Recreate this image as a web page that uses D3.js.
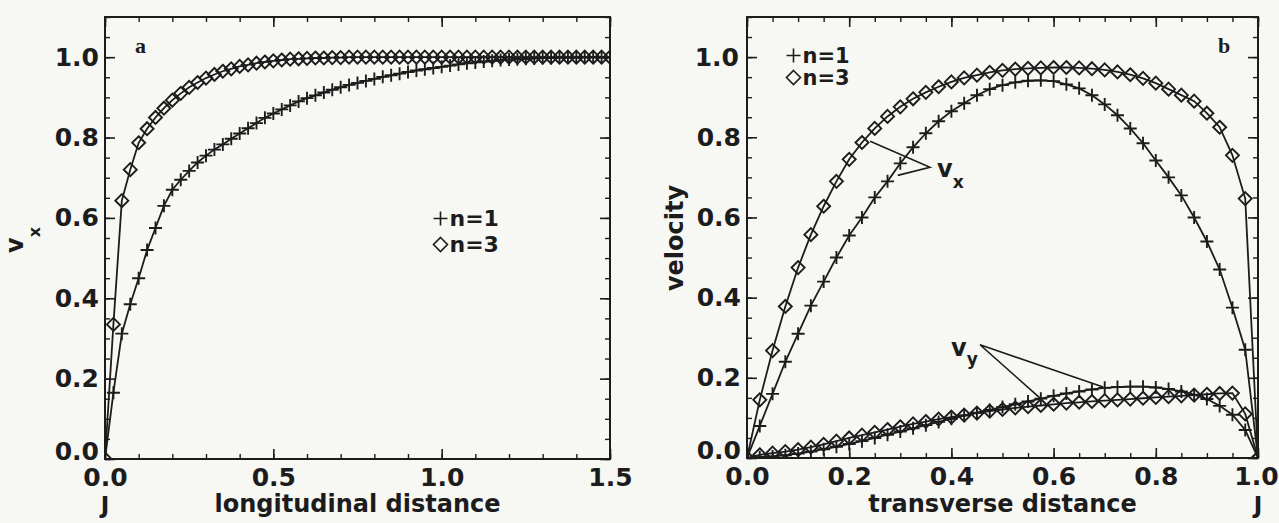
<!DOCTYPE html>
<html>
<head>
<meta charset="utf-8">
<script src="https://cdn.jsdelivr.net/npm/d3@7"></script>
<style>
  html, body { margin: 0; padding: 0; background: #f7f7f4; }
  svg { display: block; }
  text { font-family: 'DejaVu Sans', sans-serif; font-weight: bold; fill: #1c1c1c; }
  .serif { font-family: 'Liberation Serif', serif; }
</style>
</head>
<body>
<svg id="chart" width="1279" height="523"></svg>
<script>
// ---- Data ----
const xLong = [
  0, 0.025, 0.05, 0.075, 0.1, 0.125, 0.15, 0.175, 0.2, 0.225,
  0.25, 0.275, 0.3, 0.325, 0.35, 0.375, 0.4, 0.425, 0.45, 0.475,
  0.5, 0.525, 0.55, 0.575, 0.6, 0.625, 0.65, 0.675, 0.7, 0.725,
  0.75, 0.775, 0.8, 0.825, 0.85, 0.875, 0.9, 0.925, 0.95, 0.975,
  1.0, 1.025, 1.05, 1.075, 1.1, 1.125, 1.15, 1.175, 1.2, 1.225,
  1.25, 1.275, 1.3, 1.325, 1.35, 1.375, 1.4, 1.425, 1.45, 1.475,
  1.5
];
// panel a: v_x along the longitudinal distance
const vxLongN1 = [
  0, 0.165, 0.312, 0.385, 0.45, 0.52, 0.575, 0.63, 0.67, 0.695,
  0.717, 0.738, 0.755, 0.77, 0.783, 0.797, 0.81, 0.823, 0.836, 0.849,
  0.86, 0.87, 0.88, 0.89, 0.898, 0.905, 0.912, 0.919, 0.925, 0.931,
  0.936, 0.941, 0.946, 0.951, 0.955, 0.959, 0.963, 0.967, 0.97, 0.973,
  0.976, 0.979, 0.982, 0.985, 0.987, 0.989, 0.991, 0.993, 0.994, 0.995,
  0.996, 0.997, 0.998, 0.998, 0.999, 0.999, 0.999, 1, 1, 1,
  1
];
const vxLongN3 = [
  0, 0.335, 0.643, 0.72, 0.787, 0.822, 0.85, 0.873, 0.893, 0.91,
  0.925, 0.937, 0.948, 0.957, 0.965, 0.971, 0.977, 0.981, 0.985, 0.988,
  0.991, 0.993, 0.995, 0.996, 0.997, 0.998, 0.998, 0.999, 0.999, 1,
  1, 1, 1, 1, 1, 1, 1, 1, 1, 1,
  1, 1, 1, 1, 1, 1, 1, 1, 1, 1,
  1, 1, 1, 1, 1, 1, 1, 1, 1, 1,
  1
];

// panel b: velocities across the transverse distance
const xTrans = xLong.slice(0, 41);
const vxTransN1 = [
  0, 0.08, 0.16, 0.24, 0.31, 0.38, 0.44, 0.5, 0.555, 0.6,
  0.65, 0.69, 0.735, 0.775, 0.81, 0.84, 0.865, 0.885, 0.905, 0.92,
  0.93, 0.937, 0.941, 0.942, 0.94, 0.932, 0.922, 0.905, 0.882, 0.855,
  0.822, 0.785, 0.742, 0.7, 0.655, 0.6, 0.54, 0.47, 0.375, 0.27,
  0
];
const vxTransN3 = [
  0, 0.145, 0.268, 0.378, 0.475, 0.557, 0.628, 0.69, 0.745, 0.787,
  0.822, 0.852, 0.876, 0.896, 0.912, 0.926, 0.938, 0.948, 0.955, 0.962,
  0.967, 0.97, 0.972, 0.973, 0.974, 0.974, 0.973, 0.971, 0.968, 0.963,
  0.956, 0.947, 0.935, 0.92, 0.905, 0.89, 0.86, 0.825, 0.755, 0.647,
  0
];
const vyTransN1 = [
  0, 0.002, 0.004, 0.007, 0.011, 0.016, 0.022, 0.028, 0.035, 0.042,
  0.05, 0.058, 0.066, 0.074, 0.082, 0.09, 0.098, 0.106, 0.113, 0.12,
  0.127, 0.134, 0.141, 0.148, 0.155, 0.161, 0.166, 0.171, 0.175, 0.177,
  0.178, 0.178, 0.176, 0.172, 0.166, 0.158, 0.147, 0.13, 0.108, 0.07,
  0
];
const vyTransN3 = [
  0, 0.008, 0.012, 0.016, 0.021, 0.027, 0.034, 0.042, 0.05, 0.057,
  0.064, 0.071, 0.078, 0.085, 0.091, 0.097, 0.102, 0.107, 0.112, 0.117,
  0.121, 0.125, 0.128, 0.131, 0.134, 0.137, 0.139, 0.141, 0.143, 0.145,
  0.147, 0.149, 0.151, 0.153, 0.155, 0.157, 0.159, 0.161, 0.162, 0.11,
  0
];

// ---- Ticks and labels ----
const yTicks = [0, 0.2, 0.4, 0.6, 0.8, 1.0];
const xTicksA = [0, 0.5, 1.0, 1.5];
const xTicksB = [0, 0.2, 0.4, 0.6, 0.8, 1.0];
const legendLabels = ['n=1', 'n=3'];

// pointer lines (tip first, then the two ends), in data units
const vxPointer = [[0.358, 0.725], [0.241, 0.79], [0.295, 0.705]];
const vyPointer = [[0.456, 0.2825], [0.697, 0.177], [0.573, 0.15]];

// ---- Visual constants ----
const ink = '#1c1c1c';
const svg = d3.select('#chart');
const markSize = 6.5;

function markerPath(kind, s) {
  return kind === 'plus'
    ? `M${-s},0H${s}M0,${-s}V${s}`
    : `M0,${-s}L${s},0L0,${s}L${-s},0Z`;
}

// ---- One panel: frame, ticks on all sides, labels ----
function drawPanel(id, x, y, xTicks, xMinor, yMinor) {
  const [x0, x1] = x.range();
  const [y0, y1] = y.range();
  const g = svg.append('g').attr('class', id).style('color', ink);

  svg.append('clipPath').attr('id', 'clip-' + id)
    .append('rect')
    .attr('x', x0).attr('y', y1).attr('width', x1 - x0).attr('height', y0 - y1);

  const fmt = d3.format('.1f');
  const axes = [
    [d3.axisBottom(x), `translate(0,${y0})`, xTicks, xMinor, 'bottom'],
    [d3.axisTop(x), `translate(0,${y1})`, xTicks, xMinor, null],
    [d3.axisLeft(y), `translate(${x0},0)`, yTicks, yMinor, 'left'],
    [d3.axisRight(y), `translate(${x1},0)`, yTicks, yMinor, null]
  ];
  axes.forEach(([axis, tr, major, minor, side]) => {
    const gm = g.append('g').attr('transform', tr)
      .call(axis.tickValues(minor).tickSizeInner(-5).tickSizeOuter(0).tickFormat(''));
    gm.select('.domain').remove();
    gm.selectAll('line').attr('stroke-width', 1.4);

    const ga = g.append('g').attr('transform', tr)
      .call(axis.tickValues(major).tickSizeInner(-10).tickSizeOuter(0)
        .tickPadding(side === 'bottom' ? 9 : 6)
        .tickFormat(side ? fmt : ''));
    ga.select('.domain').remove();
    ga.attr('font-size', 25).attr('font-family', null);
    ga.selectAll('line').attr('stroke-width', 1.6);
    // the zero label on the value axis sits a little above its tick
    if (side === 'left') {
      ga.selectAll('.tick text').filter((d) => d === 0).attr('dy', '0.02em');
    }
  });

  g.append('rect')
    .attr('x', x0).attr('y', y1).attr('width', x1 - x0).attr('height', y0 - y1)
    .attr('fill', 'none').attr('stroke', ink).attr('stroke-width', 2);
  return g;
}

function drawSeries(id, x, y, xs, ys, kind) {
  const pts = xs.map((d, i) => [d, ys[i]]);
  const g = svg.append('g').attr('clip-path', `url(#clip-${id})`);
  g.append('path')
    .attr('d', d3.line().x((d) => x(d[0])).y((d) => y(d[1]))(pts))
    .attr('fill', 'none').attr('stroke', ink).attr('stroke-width', 1.8);
  g.selectAll('path.mark')
    .data(pts)
    .join('path')
    .attr('class', 'mark')
    .attr('transform', (d) => `translate(${x(d[0])},${y(d[1])})`)
    .attr('d', markerPath(kind, markSize))
    .attr('fill', 'none').attr('stroke', ink).attr('stroke-width', 1.9);
}

function drawLegend(x0, yFirst, gap, size) {
  ['plus', 'diamond'].forEach((kind, i) => {
    const cy = yFirst + i * gap;
    svg.append('path')
      .attr('transform', `translate(${x0},${cy - 7.5})`)
      .attr('d', markerPath(kind, 7))
      .attr('fill', 'none').attr('stroke', ink).attr('stroke-width', 1.6);
    svg.append('text')
      .attr('x', x0 + 9).attr('y', cy)
      .attr('font-size', size)
      .text(legendLabels[i]);
  });
}

function drawPointer(x, y, pts) {
  const [tip, a, b] = pts;
  svg.append('path')
    .attr('d', `M${x(a[0])},${y(a[1])}L${x(tip[0])},${y(tip[1])}L${x(b[0])},${y(b[1])}`)
    .attr('fill', 'none').attr('stroke', ink).attr('stroke-width', 1.6);
}

function subLabel(px, py, main, sub, shift) {
  const t = svg.append('text').attr('x', px).attr('y', py).attr('font-size', 24);
  t.append('tspan').text(main);
  t.append('tspan').attr('font-size', 17).attr('dy', shift).text(sub);
  return t;
}

// ---- Panel a ----
const xA = d3.scaleLinear([0, 1.5], [105, 610]);
const yA = d3.scaleLinear([0, 1.1], [459, 17]);
drawPanel('a', xA, yA, xTicksA, d3.range(0, 1.5001, 0.1), d3.range(0, 1.1001, 0.05));
drawSeries('a', xA, yA, xLong, vxLongN1, 'plus');
drawSeries('a', xA, yA, xLong, vxLongN3, 'diamond');
drawLegend(440.5, 226, 26, 22);

svg.append('text').attr('class', 'serif').attr('x', 135).attr('y', 53)
  .attr('font-size', 22).text('a');
svg.append('text').attr('x', xA(0)).attr('y', 513).attr('font-size', 23)
  .attr('text-anchor', 'middle').text('J');
svg.append('text').attr('x', (xA.range()[0] + xA.range()[1]) / 2).attr('y', 512)
  .attr('font-size', 24).attr('text-anchor', 'middle').text('longitudinal distance');

const vxTitle = svg.append('text').attr('font-size', 24)
  .attr('text-anchor', 'middle')
  .attr('transform', 'translate(23,240) rotate(-90)');
vxTitle.append('tspan').text('v');
vxTitle.append('tspan').attr('font-size', 16).attr('dy', 17).text('x');

// ---- Panel b ----
const xB = d3.scaleLinear([0, 1], [747, 1258]);
const yB = d3.scaleLinear([0, 1.1], [458, 17]);
drawPanel('b', xB, yB, xTicksB, d3.range(0, 1.0001, 0.05), d3.range(0, 1.1001, 0.05));
// last label of panel b is squeezed against the page edge
svg.select('g.b').selectAll('.tick text').filter((d) => d === 1 && this !== null)
  .filter(function () { return this.closest('g[transform^="translate(0,"]'); })
  .attr('dx', -2);
drawSeries('b', xB, yB, xTrans, vxTransN1, 'plus');
drawSeries('b', xB, yB, xTrans, vxTransN3, 'diamond');
drawSeries('b', xB, yB, xTrans, vyTransN1, 'plus');
drawSeries('b', xB, yB, xTrans, vyTransN3, 'diamond');
drawLegend(793.5, 63, 22, 21);

drawPointer(xB, yB, vxPointer);
drawPointer(xB, yB, vyPointer);
subLabel(937, 177, 'v', 'x', 11);
subLabel(951, 356, 'v', 'y', 9);

svg.append('text').attr('class', 'serif').attr('x', 1218).attr('y', 53)
  .attr('font-size', 22).text('b');
svg.append('text').attr('x', xB(1)).attr('y', 513).attr('font-size', 23)
  .attr('text-anchor', 'middle').text('J');
svg.append('text').attr('x', (xB.range()[0] + xB.range()[1]) / 2).attr('y', 512)
  .attr('font-size', 24).attr('text-anchor', 'middle').text('transverse distance');
svg.append('text').attr('font-size', 24).attr('text-anchor', 'middle')
  .attr('transform', 'translate(683,238) rotate(-90)')
  .text('velocity');
</script>
</body>
</html>
